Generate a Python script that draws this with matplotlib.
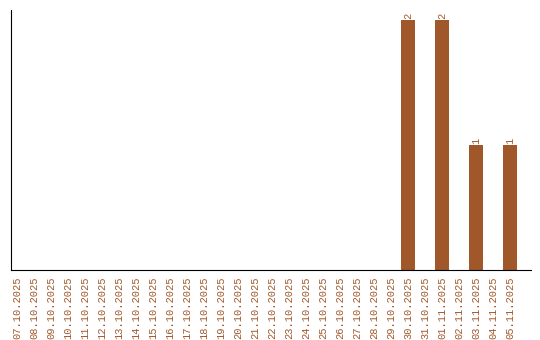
import matplotlib
matplotlib.use('Agg')
import matplotlib.pyplot as plt
import numpy as np

dates = ['07.10.2025', '08.10.2025', '09.10.2025', '10.10.2025', '11.10.2025',
         '12.10.2025', '13.10.2025', '14.10.2025', '15.10.2025', '16.10.2025',
         '17.10.2025', '18.10.2025', '19.10.2025', '20.10.2025', '21.10.2025',
         '22.10.2025', '23.10.2025', '24.10.2025', '25.10.2025', '26.10.2025',
         '27.10.2025', '28.10.2025', '29.10.2025', '30.10.2025', '31.10.2025',
         '01.11.2025', '02.11.2025', '03.11.2025', '04.11.2025', '05.11.2025']
counts = [0]*23 + [2, 0, 2, 0, 1, 0, 1]

col = '#a0582a'
plt.rcParams['font.family'] = 'Liberation Mono'

fig = plt.figure(figsize=(5.4, 3.4), dpi=100)
ax = fig.add_axes([11/540, 1-270/340, 520/540, 260/340])

x = np.arange(len(dates))
bars = ax.bar(x, counts, width=0.82, color=col)
for xi, v in zip(x, counts):
    if v > 0:
        ax.text(xi, v + 0.005, str(v), rotation=90, ha='center', va='bottom',
                color=col, fontsize=7.5)

ax.set_xlim(-0.35, 30.24)
ax.set_ylim(0, 2.08)
ax.set_xticks(x)
ax.set_xticklabels(dates, rotation=90, color=col, fontsize=7.5)
ax.tick_params(axis='x', length=0, pad=5)
ax.set_yticks([])
ax.spines['top'].set_visible(False)
ax.spines['right'].set_visible(False)

plt.savefig('out.png', dpi=100)
